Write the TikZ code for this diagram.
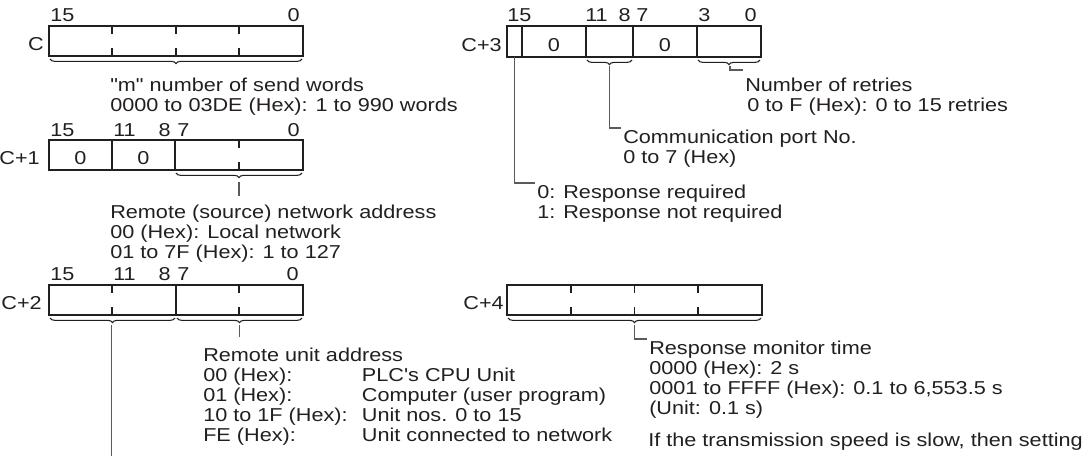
\documentclass[tikz,border=0pt]{standalone}
\usepackage{fontspec}
\setmainfont{Liberation Sans}[FakeStretch=1.16,Ligatures=TeXOff]
\usetikzlibrary{decorations.pathreplacing,positioning}
\definecolor{regink}{RGB}{35,31,32}
\definecolor{regleader}{RGB}{90,90,90}

\begin{document}
\begin{tikzpicture}[x=0.75pt,y=-0.75pt,line join=miter,
  txt/.style={font=\fontsize{14}{15}\selectfont,text=regink,inner sep=0pt,align=left},
  regbox/.style={draw=regink,line width=1pt},
  bitmark/.style={draw=regink,line width=0.9pt},
  underbrace/.style={draw=regink,line width=0.8pt,decorate,
    decoration={brace,mirror,amplitude=3.5pt}},
  leader/.style={draw=regleader,line width=0.8pt},
  tag/.style={txt,inner sep=1.5pt,anchor=north west}]
 \useasboundingbox (0,0) rectangle (1090,455);

 % word C
 \draw[regbox] (49,26) rectangle (303,56);
 \foreach \x in {112,176,239}
  \draw[bitmark] (\x,26) -- ++(0,8) (\x,56) -- ++(0,-8);
 \node[txt,anchor=base west] (c15) at (50,21.5) {15};
 \node[txt,anchor=base east] (c0) at (300,21.5) {0};
 \node[txt,anchor=base east] (cname) at (44,50.5) {C};
 \draw[underbrace] (50,59) -- (302,59);
 \node[txt,anchor=base west] (csend) at (110,111)
  {"m" number of send words\\0000 to 03DE (Hex): 1 to 990 words};

 % word C+1
 \draw[regbox] (49,140) rectangle (303,170);
 \draw[bitmark] (112,140) -- (112,170) (175,140) -- (175,170);
 \draw[bitmark] (239,140) -- ++(0,8) (239,170) -- ++(0,-8);
 \node[txt,anchor=base west] (a15) at (50,136) {15};
 \node[txt,anchor=base west] (a11) at (113,136) {11};
 \node[txt,anchor=base east] (a8) at (171,136) {8};
 \node[txt,anchor=base west] (a7) at (177,136) {7};
 \node[txt,anchor=base east] (a0) at (300,136) {0};
 \node[txt,anchor=base east] (aname) at (40,164.5) {C+1};
 \node[txt,anchor=base] (azero1) at (80.5,164.5) {0};
 \node[txt,anchor=base] (azero2) at (143.5,164.5) {0};
 \draw[underbrace] (176,173) -- (302,173);
 \coordinate (atip) at (239,182);
 \draw[leader] (atip) -- ++(0,14);
 \node[txt,anchor=base west] (anet) at (110,258.5)
  {Remote (source) network address\\00 (Hex): Local network\\01 to 7F (Hex): 1 to 127};

 % word C+2
 \draw[regbox] (49,285) rectangle (303,315);
 \draw[bitmark] (176,285) -- (176,315);
 \foreach \x in {112,239}
  \draw[bitmark] (\x,285) -- ++(0,8) (\x,315) -- ++(0,-8);
 \node[txt,anchor=base west] (b15) at (50,280.5) {15};
 \node[txt,anchor=base west] (b11) at (113,280.5) {11};
 \node[txt,anchor=base east] (b8) at (171,280.5) {8};
 \node[txt,anchor=base west] (b7) at (177,280.5) {7};
 \node[txt,anchor=base east] (b0) at (299,280.5) {0};
 \node[txt,anchor=base east] (bname) at (42,309.5) {C+2};
 \draw[underbrace] (50,318) -- (175,318);
 \draw[underbrace] (177,318) -- (302,318);
 \coordinate (btipl) at (111.5,325);
 \coordinate (btipr) at (239.5,325);
 \coordinate (bdown) at (111.5,470);
 \draw[leader] (btipl) -- (bdown);
 \draw[leader] (btipr) -- ++(0,12);
 \node[txt,anchor=base west] (bunit) at (203,441)
  {Remote unit address\\
   \makebox[119pt][l]{00 (Hex):}PLC's CPU Unit\\
   \makebox[119pt][l]{01 (Hex):}Computer (user program)\\
   \makebox[119pt][l]{10 to 1F (Hex):}Unit nos. 0 to 15\\
   \makebox[119pt][l]{FE (Hex):}Unit connected to network};

 % word C+3
 \draw[regbox] (507,26) rectangle (761,57);
 \foreach \x in {522,586,633,697}
  \draw[bitmark] (\x,26) -- (\x,57);
 \node[txt,anchor=base west] (d15) at (507,21.5) {15};
 \node[txt,anchor=base west] (d11) at (585,21.5) {11};
 \node[txt,anchor=base east] (d8) at (631,21.5) {8};
 \node[txt,anchor=base west] (d7) at (636,21.5) {7};
 \node[txt,anchor=base west] (d3) at (698,21.5) {3};
 \node[txt,anchor=base east] (d0) at (757,21.5) {0};
 \node[txt,anchor=base east] (dname) at (502,51.5) {C+3};
 \node[txt,anchor=base] (dzero1) at (554,51.5) {0};
 \node[txt,anchor=base] (dzero2) at (665,51.5) {0};
 \draw[underbrace] (587,60) -- (632,60);
 \draw[underbrace] (698,60) -- (760,60);
 \coordinate (dbit) at (514.5,57);
 \coordinate (dtipp) at (609.5,66);
 \coordinate (dtipr) at (730,66);
 \node[tag] (retry) at (743,76)
  {Number of retries\\\hspace{1.5pt}0 to F (Hex): 0 to 15 retries};
 \node[tag] (port) at (621,128) {Communication port No.\\0 to 7 (Hex)};
 \node[tag] (resp) at (535,183) {0: Response required\\1: Response not required};
 \draw[leader] (dtipr) |- ([yshift=4.5pt]retry.north west);
 \draw[leader] (dtipp) |- (port.north west);
 \draw[leader] (dbit) |- (resp.north west);

 % word C+4
 \draw[regbox] (507,285) rectangle (762,315);
 \foreach \x in {571,634.5,698}
  \draw[bitmark] (\x,285) -- ++(0,8) (\x,315) -- ++(0,-8);
 \node[txt,anchor=base east] (ename) at (504,309.5) {C+4};
 \draw[underbrace] (508,318) -- (761,318);
 \coordinate (etip) at (634.5,325);
 \node[tag] (mon) at (647,339)
  {Response monitor time\\0000 (Hex): 2 s\\0001 to FFFF (Hex): 0.1 to 6,553.5 s\\(Unit: 0.1 s)};
 \draw[leader] (etip) |- (mon.north west);
 \node[txt,anchor=base west] (slow) at (648,446.5)
  {If the transmission speed is slow, then setting};
\end{tikzpicture}
\end{document}
